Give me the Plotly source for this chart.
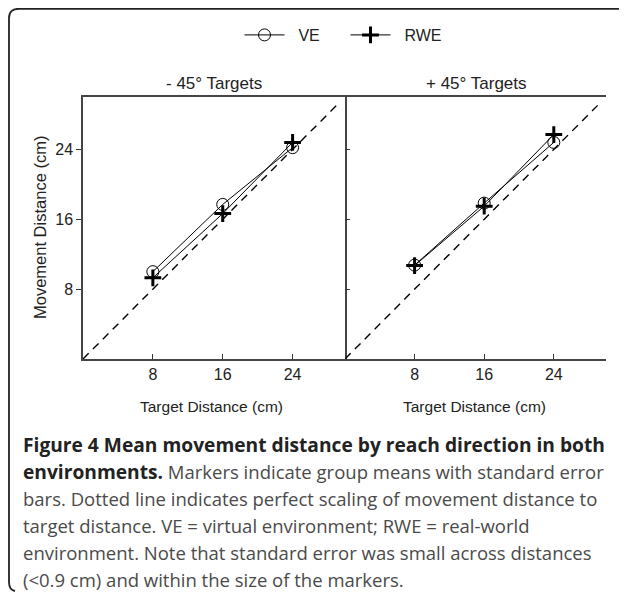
import plotly.graph_objects as go

# ---- data ----
target_distance = [8, 16, 24]
ve_minus45 = [10.0, 17.7, 24.2]
rwe_minus45 = [9.3, 16.65, 24.8]
ve_plus45 = [10.75, 17.85, 24.8]
rwe_plus45 = [10.7, 17.5, 25.7]
identity_line = [0, 29.1]
tick_vals = [8, 16, 24]
tick_text = ["8", "16", "24"]
panel_titles = ["- 45° Targets", "+ 45° Targets"]
series_names = ["\u00a0\u00a0VE", "\u00a0\u00a0RWE"]
caption_lines = [
    "<b>Figure 4 Mean movement distance by reach direction in both</b>",
    "<b>environments.</b> Markers indicate group means with standard error",
    "bars. Dotted line indicates perfect scaling of movement distance to",
    "target distance. VE = virtual environment; RWE = real-world",
    "environment. Note that standard error was small across distances",
    "(<0.9 cm) and within the size of the markers.",
]

# page body has an 8px margin; work in window pixel coordinates
OFF = 8
W, H = 619, 585
def px(x):
    return (x - OFF) / W
def py(y):
    return 1 - (y - OFF) / H

CHART_FONT = "Liberation Sans, Arial, sans-serif"

fig = go.Figure()

panels = [("x", "y", ve_minus45, rwe_minus45, True), ("x2", "y2", ve_plus45, rwe_plus45, False)]
for xa, ya, ve, rwe, show_leg in panels:
    fig.add_trace(go.Scatter(x=identity_line, y=identity_line, mode="lines",
                             line=dict(color="black", width=1.4, dash="8px,6px"),
                             showlegend=False, hoverinfo="skip", xaxis=xa, yaxis=ya))
    fig.add_trace(go.Scatter(x=target_distance, y=ve, mode="lines+markers", name=series_names[0],
                             line=dict(color="black", width=1),
                             marker=dict(symbol="circle-open", size=12, color="black",
                                         line=dict(width=1, color="black")),
                             showlegend=show_leg, xaxis=xa, yaxis=ya))
    fig.add_trace(go.Scatter(x=target_distance, y=rwe, mode="lines+markers", name=series_names[1],
                             line=dict(color="black", width=1),
                             marker=dict(symbol="cross-thin-open", size=12, color="black",
                                         line=dict(width=3, color="black")),
                             showlegend=show_leg, xaxis=xa, yaxis=ya))

axis_common = dict(range=[0, 30], showgrid=False, zeroline=False, showline=True,
                   linecolor="#444", linewidth=1.5, mirror=True,
                   tickvals=tick_vals, ticktext=tick_text, ticklen=5, tickwidth=1.2,
                   tickcolor="#333", tickfont=dict(family=CHART_FONT, size=16, color="#222"))

ydom = [py(359), py(97)]
fig.update_layout(
    width=W, height=H,
    margin=dict(l=0, r=0, t=0, b=0),
    paper_bgcolor="white", plot_bgcolor="white",
    font=dict(family=CHART_FONT, color="#222"),
    xaxis=dict(axis_common, domain=[px(83), px(345)], ticks="inside", anchor="y"),
    yaxis=dict(axis_common, domain=ydom, ticks="outside", anchor="x"),
    xaxis2=dict(axis_common, domain=[px(345), px(606)], ticks="inside", anchor="y2"),
    yaxis2=dict(axis_common, domain=ydom, ticks="inside", showticklabels=False,
                showline=False, anchor="x2"),
    legend=dict(orientation="h", x=px(345.5), xanchor="center", y=py(35), yanchor="middle",
                font=dict(family=CHART_FONT, size=16, color="#222"),
                bgcolor="rgba(0,0,0,0)", itemwidth=40, entrywidth=51),
    showlegend=True,
)

annotations = []
for title, cx in zip(panel_titles, [214, 476]):
    annotations.append(dict(text=title, x=px(cx), y=py(83), xref="paper", yref="paper",
                            showarrow=False, xanchor="center", yanchor="middle",
                            font=dict(family=CHART_FONT, size=17, color="#222")))
for cx in [211, 474]:
    annotations.append(dict(text="Target Distance (cm)", x=px(cx), y=py(406), xref="paper", yref="paper",
                            showarrow=False, xanchor="center", yanchor="middle",
                            font=dict(family=CHART_FONT, size=15.5, color="#222")))
annotations.append(dict(text="Movement Distance (cm)", x=px(40), y=py(228), xref="paper", yref="paper",
                        showarrow=False, xanchor="center", yanchor="middle", textangle=-90,
                        font=dict(family=CHART_FONT, size=16.5, color="#222")))
line_y = [444, 471, 498, 525, 552, 579]
for i, (txt, ly) in enumerate(zip(caption_lines, line_y)):
    txt = txt.replace("<b>", "<b><span style='font-size:19.2px;color:#222'>").replace("</b>", "</span></b>")
    annotations.append(dict(text=txt, x=px(21), y=py(ly), xref="paper", yref="paper",
                            showarrow=False, xanchor="left", yanchor="middle", align="left",
                            font=dict(family="Open Sans, sans-serif", size=18.5, color="#4a4a4a")))
fig.update_layout(annotations=annotations)

border = (f"M {px(640)},{py(8.8)} L {px(19)},{py(8.8)} Q {px(9)},{py(8.8)} {px(9)},{py(18)} "
          f"L {px(9)},{py(582)} Q {px(9)},{py(590)} {px(15)},{py(591)}")
fig.add_shape(type="path", path=border, xref="paper", yref="paper",
              line=dict(color="#222", width=1.8))

fig.write_html("out.html")
